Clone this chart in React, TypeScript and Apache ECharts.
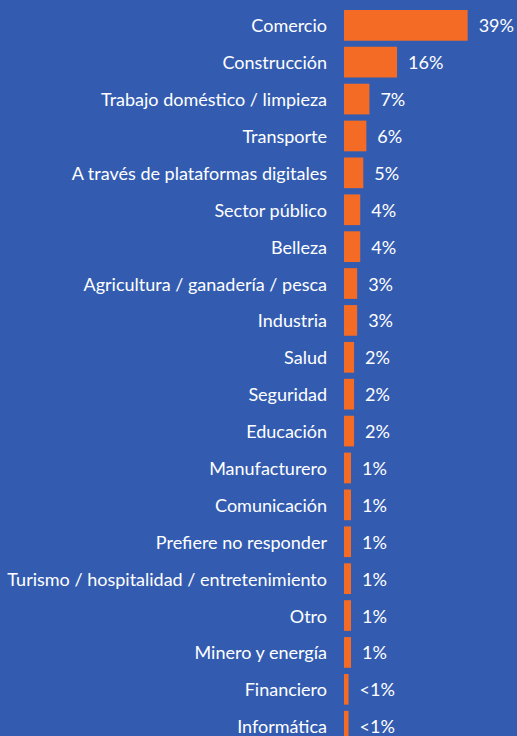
import React, { useEffect, useRef } from "react";
import * as echarts from "echarts";

const categories = [
  "Comercio",
  "Construcción",
  "Trabajo doméstico / limpieza",
  "Transporte",
  "A través de plataformas digitales",
  "Sector público",
  "Belleza",
  "Agricultura / ganadería / pesca",
  "Industria",
  "Salud",
  "Seguridad",
  "Educación",
  "Manufacturero",
  "Comunicación",
  "Prefiere no responder",
  "Turismo / hospitalidad / entretenimiento",
  "Otro",
  "Minero y energía",
  "Financiero",
  "Informática",
];

const values = [39, 16, 7, 6, 5, 4, 4, 3, 3, 2, 2, 2, 1, 1, 1, 1, 1, 1, 0.2, 0.2];

const valueLabels = [
  "39%", "16%", "7%", "6%", "5%", "4%", "4%", "3%", "3%", "2%",
  "2%", "2%", "1%", "1%", "1%", "1%", "1%", "1%", "<1%", "<1%",
];

const BG = "#335CB1";
const ORANGE = "#F46B25";
const FONT = "Lato";

export default function App() {
  const ref = useRef<HTMLDivElement>(null);

  useEffect(() => {
    if (!ref.current) return;
    const chart = echarts.init(ref.current, null, { renderer: "svg" });
    chart.setOption({
      animation: false,
      backgroundColor: BG,
      grid: {
        left: 344,
        right: 15.6,
        top: 6.85,
        height: 737.8,
        containLabel: false,
        outerBoundsMode: "none",
      },
      xAxis: {
        type: "value",
        min: -1.28,
        max: 50,
        startValue: -1.28,
        show: false,
        splitLine: { show: false },
      },
      yAxis: {
        type: "category",
        data: categories,
        inverse: true,
        axisLine: { show: false },
        axisTick: { show: false },
        axisLabel: {
          color: "#FFFFFF",
          fontFamily: FONT,
          fontSize: 18,
          margin: 17,
        },
      },
      series: [
        {
          type: "bar",
          data: values,
          barCategoryGap: "16.8%",
          itemStyle: { color: ORANGE },
          label: {
            show: true,
            position: "right",
            distance: 11,
            color: "#FFFFFF",
            fontFamily: FONT,
            fontSize: 18,
            formatter: (p: any) => valueLabels[p.dataIndex],
          },
        },
      ],
    });
    return () => chart.dispose();
  }, []);

  return (
    <div style={{ position: "fixed", left: 0, top: 0, width: 517, height: 736, overflow: "hidden", background: BG }}>
      <div ref={ref} style={{ width: 517, height: 736 }} />
    </div>
  );
}
